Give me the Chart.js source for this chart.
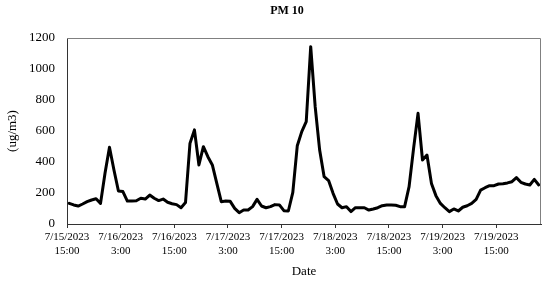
<!DOCTYPE html>
<html>
<head>
<meta charset="utf-8">
<script src="https://cdn.jsdelivr.net/npm/chart.js@4.4.0/dist/chart.umd.min.js"></script>
<style>
  body { margin: 0; background: #fff; }
  #wrap { width: 550px; height: 287px; }
</style>
</head>
<body>
<div id="wrap"><canvas id="myChart"></canvas></div>
<script>
// hourly PM10 readings, starting 7/15/2023 15:00
var pm10 = [133, 123, 116, 129, 144, 155, 163, 133, 327, 495, 348, 213,
            209, 148, 148, 150, 166, 161, 187, 166, 151, 161, 140, 131,
            125, 105, 138, 520, 607, 381, 499, 434, 381, 262, 144, 148,
            146, 101, 73, 90, 90, 112, 159, 116, 105, 112, 125, 123,
            86, 84, 204, 505, 596, 660, 1144, 757, 477, 305, 280, 198,
            129, 105, 112, 80, 105, 105, 105, 90, 97, 105, 118, 123,
            123, 121, 112, 112, 241, 486, 714, 413, 445, 262, 183, 133,
            105, 80, 97, 84, 108, 118, 133, 159, 219, 234, 247, 247,
            258, 260, 265, 273, 299, 269, 258, 252, 288, 252];

// one label every 12 hours
var tickLabels = [
    ['7/15/2023', '15:00'], ['7/16/2023', '3:00'], ['7/16/2023', '15:00'],
    ['7/17/2023', '3:00'], ['7/17/2023', '15:00'], ['7/18/2023', '3:00'],
    ['7/18/2023', '15:00'], ['7/19/2023', '3:00'], ['7/19/2023', '15:00']
];

var points = [];
for (var i = 0; i < pm10.length; i++) {
    points.push({ x: i + 0.5, y: pm10[i] });
}

// title and top/right frame
var frame = {
    id: 'frame',
    afterDraw: function(chart) {
        var ctx = chart.ctx;
        var a = chart.chartArea;
        ctx.save();
        ctx.strokeStyle = '#808080';
        ctx.lineWidth = 1;
        ctx.beginPath();
        ctx.moveTo(a.left, a.top + 0.5);
        ctx.lineTo(a.right - 0.5, a.top + 0.5);
        ctx.lineTo(a.right - 0.5, a.bottom);
        ctx.stroke();
        ctx.fillStyle = '#000';
        ctx.font = 'bold 12px "Liberation Serif"';
        ctx.textAlign = 'center';
        ctx.textBaseline = 'middle';
        ctx.fillText('PM 10', 287, 11);
        ctx.restore();
    }
};

var ctx = document.getElementById('myChart').getContext('2d');
var chart = new Chart(ctx, {
    type: 'line',
    data: {
        datasets: [{
            label: 'PM 10',
            data: points,
            borderColor: '#000',
            borderWidth: 3,
            borderJoinStyle: 'round',
            borderCapStyle: 'round',
            pointRadius: 0,
            tension: 0,
            fill: false
        }]
    },
    options: {
        responsive: true,
        maintainAspectRatio: false,
        animation: false,
        events: [],
        layout: { padding: { top: 38, right: 9, left: 0, bottom: 0 } },
        plugins: {
            legend: { display: false },
            title: { display: false },
            tooltip: { enabled: false }
        },
        scales: {
            x: {
                type: 'linear',
                min: 0,
                max: pm10.length,
                afterBuildTicks: function(scale) {
                    scale.ticks = tickLabels.map(function(t, k) { return { value: k * 12 }; });
                },
                afterFit: function(scale) { scale.height = 63; },
                grid: { display: true, drawOnChartArea: false, drawTicks: true, tickLength: 4, color: '#333' },
                border: { display: true, color: '#333', width: 1 },
                ticks: {
                    autoSkip: false,
                    maxRotation: 0,
                    padding: 2,
                    color: '#000',
                    font: { family: '"Liberation Serif"', size: 11, lineHeight: 1.27 },
                    callback: function(v) { return tickLabels[Math.round(v / 12)]; }
                },
                title: {
                    display: true,
                    text: 'Date',
                    color: '#000',
                    font: { family: '"Liberation Serif"', size: 13 },
                    padding: { top: 0, bottom: 8 }
                }
            },
            y: {
                min: 0,
                max: 1200,
                afterFit: function(scale) { scale.width = 67; },
                grid: { display: false, drawTicks: false },
                border: { display: true, color: '#333', width: 1 },
                ticks: {
                    stepSize: 200,
                    padding: 12,
                    color: '#000',
                    font: { family: '"Liberation Serif"', size: 13 },
                    callback: function(v) { return String(v); }
                },
                title: {
                    display: true,
                    text: '(ug/m3)',
                    color: '#000',
                    font: { family: '"Liberation Serif"', size: 13 },
                    padding: { top: 5, bottom: 0 }
                }
            }
        }
    },
    plugins: [frame]
});
</script>
</body>
</html>
